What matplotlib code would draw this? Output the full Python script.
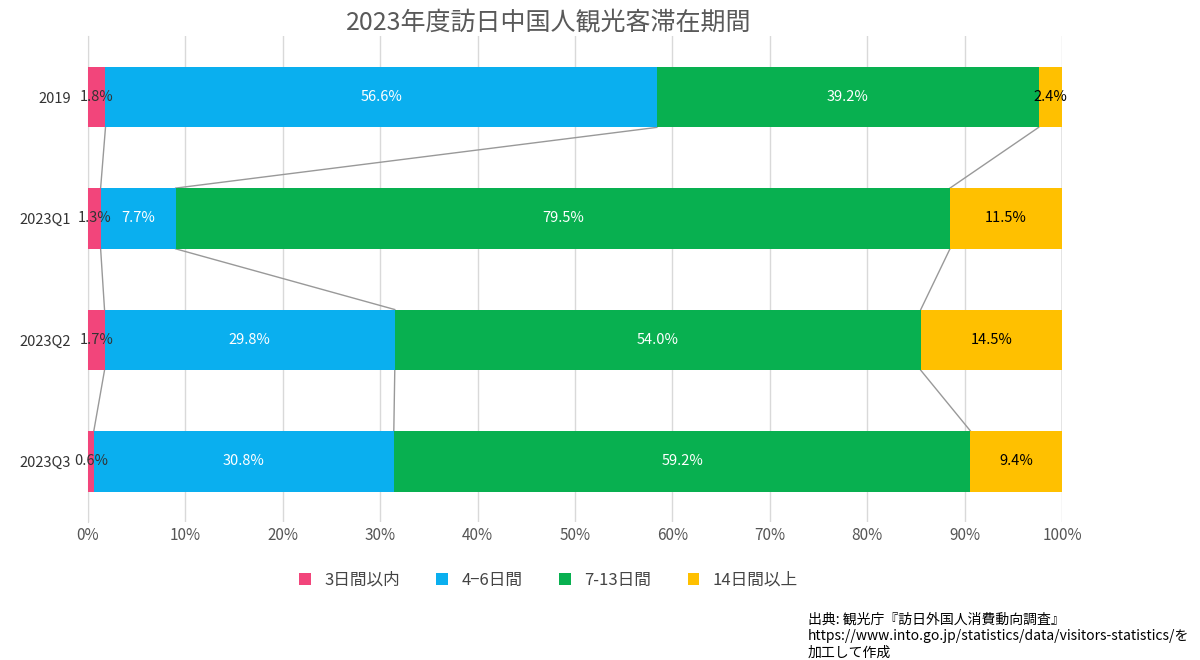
import numpy as np
import matplotlib
matplotlib.use('Agg')
from matplotlib import pyplot as plt

plt.rcParams['font.family'] = ['Noto Sans CJK JP', 'DejaVu Sans']

categories = ['2019', '2023Q1', '2023Q2', '2023Q3']
seriesNames = ['3日間以内', '4−6日間', '7-13日間', '14日間以上']
within3 = [1.8, 1.3, 1.7, 0.6]
days4to6 = [56.6, 7.7, 29.8, 30.8]
days7to13 = [39.2, 79.5, 54.0, 59.2]
over14 = [2.4, 11.5, 14.5, 9.4]
colors = ['#F2457B', '#0AAFEF', '#08B050', '#FFC000']
textColors = ['#333333', 'white', 'white', 'black']

fig = plt.figure(figsize=(12, 6.6), dpi=100)
ax = fig.add_axes([0.0733, 0.209, 0.8117, 0.736])

data = np.array([within3, days4to6, days7to13, over14])
ypos = np.arange(len(categories))
barH = 0.5
left = np.zeros(len(categories))
for i in range(len(data)):
    ax.barh(ypos, data[i], left=left, height=barH, color=colors[i],
            label=seriesNames[i], zorder=3)
    for j in range(len(categories)):
        ax.text(left[j] + data[i][j] / 2, ypos[j], '%.1f%%' % data[i][j],
                ha='center', va='center', fontsize=10.5,
                color=textColors[i], zorder=5)
    left = left + data[i]

# series lines between bars
cum = np.cumsum(data, axis=0)
for k in range(len(data)):
    for j in range(len(categories) - 1):
        ax.plot([cum[k][j], cum[k][j + 1]],
                [ypos[j] + barH / 2, ypos[j + 1] - barH / 2],
                color='#999999', lw=1, zorder=2)

ax.set_xlim(0, 100)
ax.set_ylim(3.5, -0.5)
ax.set_xticks(np.arange(0, 101, 10))
ax.set_xticklabels(['%d%%' % v for v in range(0, 101, 10)], fontsize=11, color='#555555')
ax.set_yticks(ypos)
ax.set_yticklabels(categories, fontsize=10.5, color='#333333')
ax.tick_params(length=0)
ax.tick_params(axis='y', pad=12)
ax.xaxis.grid(True, color='#D9D9D9', lw=1, zorder=0)
for s in ['top', 'right', 'bottom']:
    ax.spines[s].set_visible(False)
ax.spines['left'].set_color('#D9D9D9')

fig.text(0.457, 0.965, '2023年度訪日中国人観光客滞在期間', ha='center', va='center',
         fontsize=18, color='#595959')
fig.legend(loc='center', bbox_to_anchor=(0.457, 0.121), ncol=4, frameon=False,
           fontsize=12, handlelength=0.7, handleheight=0.7, columnspacing=2.2,
           labelcolor='#444444')
fig.text(0.673, 0.036, '出典: 観光庁『訪日外国人消費動向調査』\nhttps://www.into.go.jp/statistics/data/visitors-statistics/を\n加工して作成',
         ha='left', va='center', fontsize=10, color='black', linespacing=1.2)

fig.savefig('out.png')
